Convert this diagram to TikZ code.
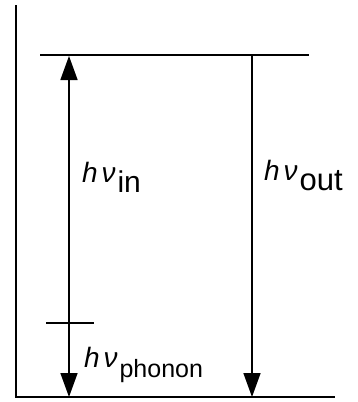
\documentclass[tikz,border=0pt]{standalone}
\usepackage{fontspec}
\setmainfont{Liberation Sans}
\usetikzlibrary{arrows.meta}
\newcommand{\hnu}[2]{{\fontsize{28}{30}\selectfont\itshape h\kern4pt ν}\kern2pt\raisebox{-10pt}{\fontsize{#2}{#2}\selectfont #1}}
\begin{document}
\begin{tikzpicture}[x=1pt,y=-1pt,
  lev/.style={line width=2.4pt},
  ax/.style={line width=2pt},
  arr/.style={line width=1.6pt},
  tip/.style={-{Triangle[length=24pt,width=17pt]}},
  lbl/.style={anchor=base west,inner sep=0pt,outer sep=0pt}]
\useasboundingbox (0,0) rectangle (358,402);
% coordinates
\coordinate (axtop) at (16,5);
\coordinate (origin) at (16,397);
\coordinate (bend) at (335,397);
\coordinate (upL) at (40,55);
\coordinate (upR) at (309,55);
\coordinate (inTop) at (69,56);
\coordinate (inBot) at (69,397);
\coordinate (outTop) at (252,55);
\coordinate (outBot) at (252,397);
\coordinate (phL) at (46,323);
\coordinate (phR) at (94,323);
% axes and levels
\draw[ax] (axtop) -- (origin) -- (bend);
\draw[lev] (upL) -- (upR);
\draw[line width=1.5pt] (phL) -- (phR);
% arrows
\draw[arr,{Triangle[length=24pt,width=17pt]}-{Triangle[length=24pt,width=17pt]}] (inTop) -- (inBot);
\draw[arr,tip] (outTop) -- (outBot);
% labels
\node[lbl] (lin) at (82,182) {\hnu{in}{30}};
\node[lbl] (lout) at (264,180) {\hnu{out}{31}};
\node[lbl] (lph) at (84,367) {\hnu{phonon}{25}};
\end{tikzpicture}
\end{document}
